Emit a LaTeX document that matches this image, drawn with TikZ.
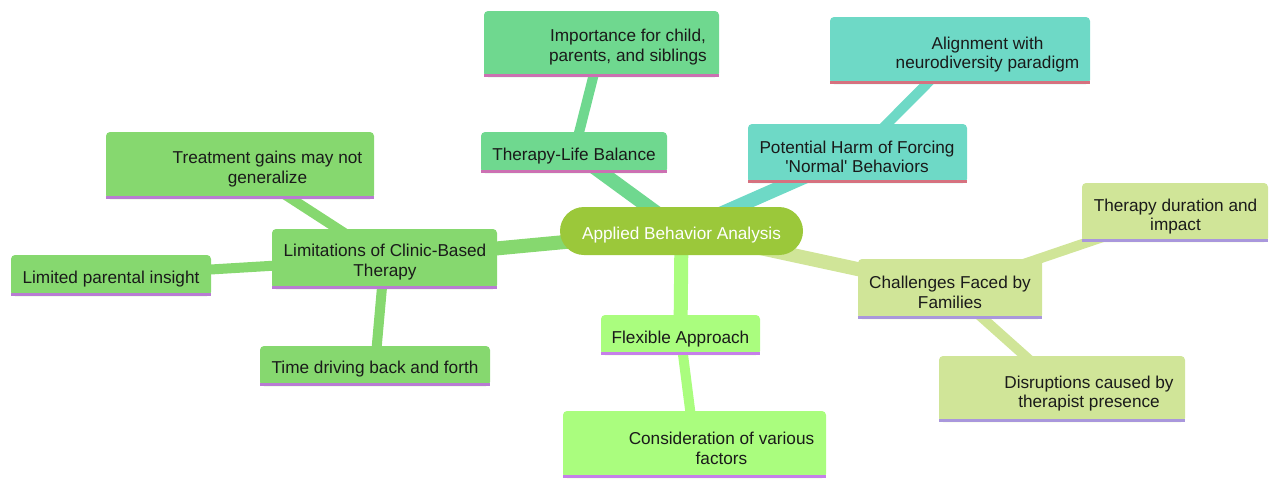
\documentclass[tikz,border=0pt]{standalone}
\usepackage{fontspec}
\setmainfont{Liberation Sans}
\usetikzlibrary{backgrounds}
\definecolor{rootfill}{HTML}{9BC83A}
\definecolor{lifefill}{HTML}{6FD88F}
\definecolor{lifeline}{HTML}{CC70B2}
\definecolor{harmfill}{HTML}{6ED9C6}
\definecolor{harmline}{HTML}{D6717F}
\definecolor{limfill}{HTML}{86D86F}
\definecolor{limline}{HTML}{B97BD3}
\definecolor{flexfill}{HTML}{AAFD7E}
\definecolor{flexline}{HTML}{C67FEA}
\definecolor{famfill}{HTML}{D0E598}
\definecolor{famline}{HTML}{A997DC}
\definecolor{ink}{HTML}{1A1A1A}
\tikzset{
  box/.style={rounded corners=4pt, inner sep=0pt, outer sep=0pt},
  txt/.style={font=\fontsize{17.2}{19.5}\selectfont, align=center, text=ink, inner sep=0pt, yshift=-2pt},
  ul/.style={line width=3pt},
  edge0/.style={line width=14pt},
  edge1/.style={line width=10pt},
}

\begin{document}
\begin{tikzpicture}[x=1pt, y=-1pt]
\useasboundingbox (0,0) rectangle (1280,488);

% centre
\node[box, rounded corners=24pt, fill=rootfill, minimum width=243pt, minimum height=48pt] (aba) at (681.5,231) {};
\node[txt, text=white] (aba-t) at (681.5,233) {Applied Behavior Analysis};

% first ring
\node[box, fill=lifefill, minimum width=186pt, minimum height=41pt] (life) at (574,152.5) {};
\node[txt] (life-t) at (574,154) {Therapy-Life Balance};
\node[box, fill=harmfill, minimum width=219pt, minimum height=59pt] (harm) at (857.5,153.5) {};
\node[txt] (harm-t) at (857,155) {Potential Harm of Forcing\\\textquotesingle Normal\textquotesingle\ Behaviors};
\node[box, fill=limfill, minimum width=225pt, minimum height=60pt] (lim) at (384.5,259) {};
\node[txt] (lim-t) at (385,260) {Limitations of Clinic-Based\\Therapy};
\node[box, fill=flexfill, minimum width=159pt, minimum height=40pt] (flex) at (680.5,335) {};
\node[txt] (flex-t) at (680.5,337) {Flexible Approach};
\node[box, fill=famfill, minimum width=184pt, minimum height=60pt] (fam) at (950,289) {};
\node[txt] (fam-t) at (950,290.5) {Challenges Faced by\\Families};

% second ring
\node[box, fill=lifefill, minimum width=235pt, minimum height=66pt] (imp) at (601.5,44) {};
\node[txt] (imp-t) at (628,45) {Importance for child,\\parents, and siblings};
\node[box, fill=harmfill, minimum width=260pt, minimum height=67pt] (align) at (960,50.5) {};
\node[txt] (align-t) at (987.5,52.5) {Alignment with\\neurodiversity paradigm};
\node[box, fill=limfill, minimum width=268pt, minimum height=67pt] (gain) at (240,165.5) {};
\node[txt] (gain-t) at (267.5,167) {Treatment gains may not\\generalize};
\node[box, fill=limfill, minimum width=200pt, minimum height=41pt] (insight) at (111,275.5) {};
\node[txt] (insight-t) at (111,277) {Limited parental insight};
\node[box, fill=limfill, minimum width=230pt, minimum height=40pt] (drive) at (375,366) {};
\node[txt] (drive-t) at (375,367) {Time driving back and forth};
\node[box, fill=flexfill, minimum width=263pt, minimum height=67pt] (factors) at (694.5,444.5) {};
\node[txt] (factors-t) at (721.5,446.5) {Consideration of various\\factors};
\node[box, fill=famfill, minimum width=186pt, minimum height=59pt] (dur) at (1175,212.5) {};
\node[txt] (dur-t) at (1175.5,214.5) {Therapy duration and\\impact};
\node[box, fill=famfill, minimum width=246pt, minimum height=66pt] (disrupt) at (1062,389) {};
\node[txt] (disrupt-t) at (1089,391.5) {Disruptions caused by\\therapist presence};

% underlines
\draw[ul, lifeline] ([yshift=1.5pt]life.south west) -- ([yshift=1.5pt]life.south east);
\draw[ul, lifeline] ([yshift=1.5pt]imp.south west) -- ([yshift=1.5pt]imp.south east);
\draw[ul, harmline] ([yshift=1.5pt]harm.south west) -- ([yshift=1.5pt]harm.south east);
\draw[ul, harmline] ([yshift=1.5pt]align.south west) -- ([yshift=1.5pt]align.south east);
\draw[ul, limline] ([yshift=1.5pt]lim.south west) -- ([yshift=1.5pt]lim.south east);
\draw[ul, limline] ([yshift=1.5pt]gain.south west) -- ([yshift=1.5pt]gain.south east);
\draw[ul, limline] ([yshift=1.5pt]insight.south west) -- ([yshift=1.5pt]insight.south east);
\draw[ul, limline] ([yshift=1.5pt]drive.south west) -- ([yshift=1.5pt]drive.south east);
\draw[ul, flexline] ([yshift=1.5pt]flex.south west) -- ([yshift=1.5pt]flex.south east);
\draw[ul, flexline] ([yshift=1.5pt]factors.south west) -- ([yshift=1.5pt]factors.south east);
\draw[ul, famline] ([yshift=1.5pt]fam.south west) -- ([yshift=1.5pt]fam.south east);
\draw[ul, famline] ([yshift=1.5pt]dur.south west) -- ([yshift=1.5pt]dur.south east);
\draw[ul, famline] ([yshift=1.5pt]disrupt.south west) -- ([yshift=1.5pt]disrupt.south east);

% links
\begin{scope}[on background layer]
\draw[edge0, lifefill] (aba.center) -- (life.center);
\draw[edge0, harmfill] (aba.center) -- (harm.center);
\draw[edge0, limfill] (aba.center) -- (lim.center);
\draw[edge0, flexfill] (aba.center) -- (flex.center);
\draw[edge0, famfill] (aba.center) -- (fam.center);
\draw[edge1, lifefill] (life.center) -- (imp.center);
\draw[edge1, harmfill] (harm.center) -- (align.center);
\draw[edge1, limfill] (lim.center) -- (gain.center);
\draw[edge1, limfill] (lim.center) -- (insight.center);
\draw[edge1, limfill] (lim.center) -- (drive.center);
\draw[edge1, flexfill] (flex.center) -- (factors.center);
\draw[edge1, famfill] (fam.center) -- (dur.center);
\draw[edge1, famfill] (fam.center) -- (disrupt.center);
\end{scope}
\end{tikzpicture}
\end{document}
